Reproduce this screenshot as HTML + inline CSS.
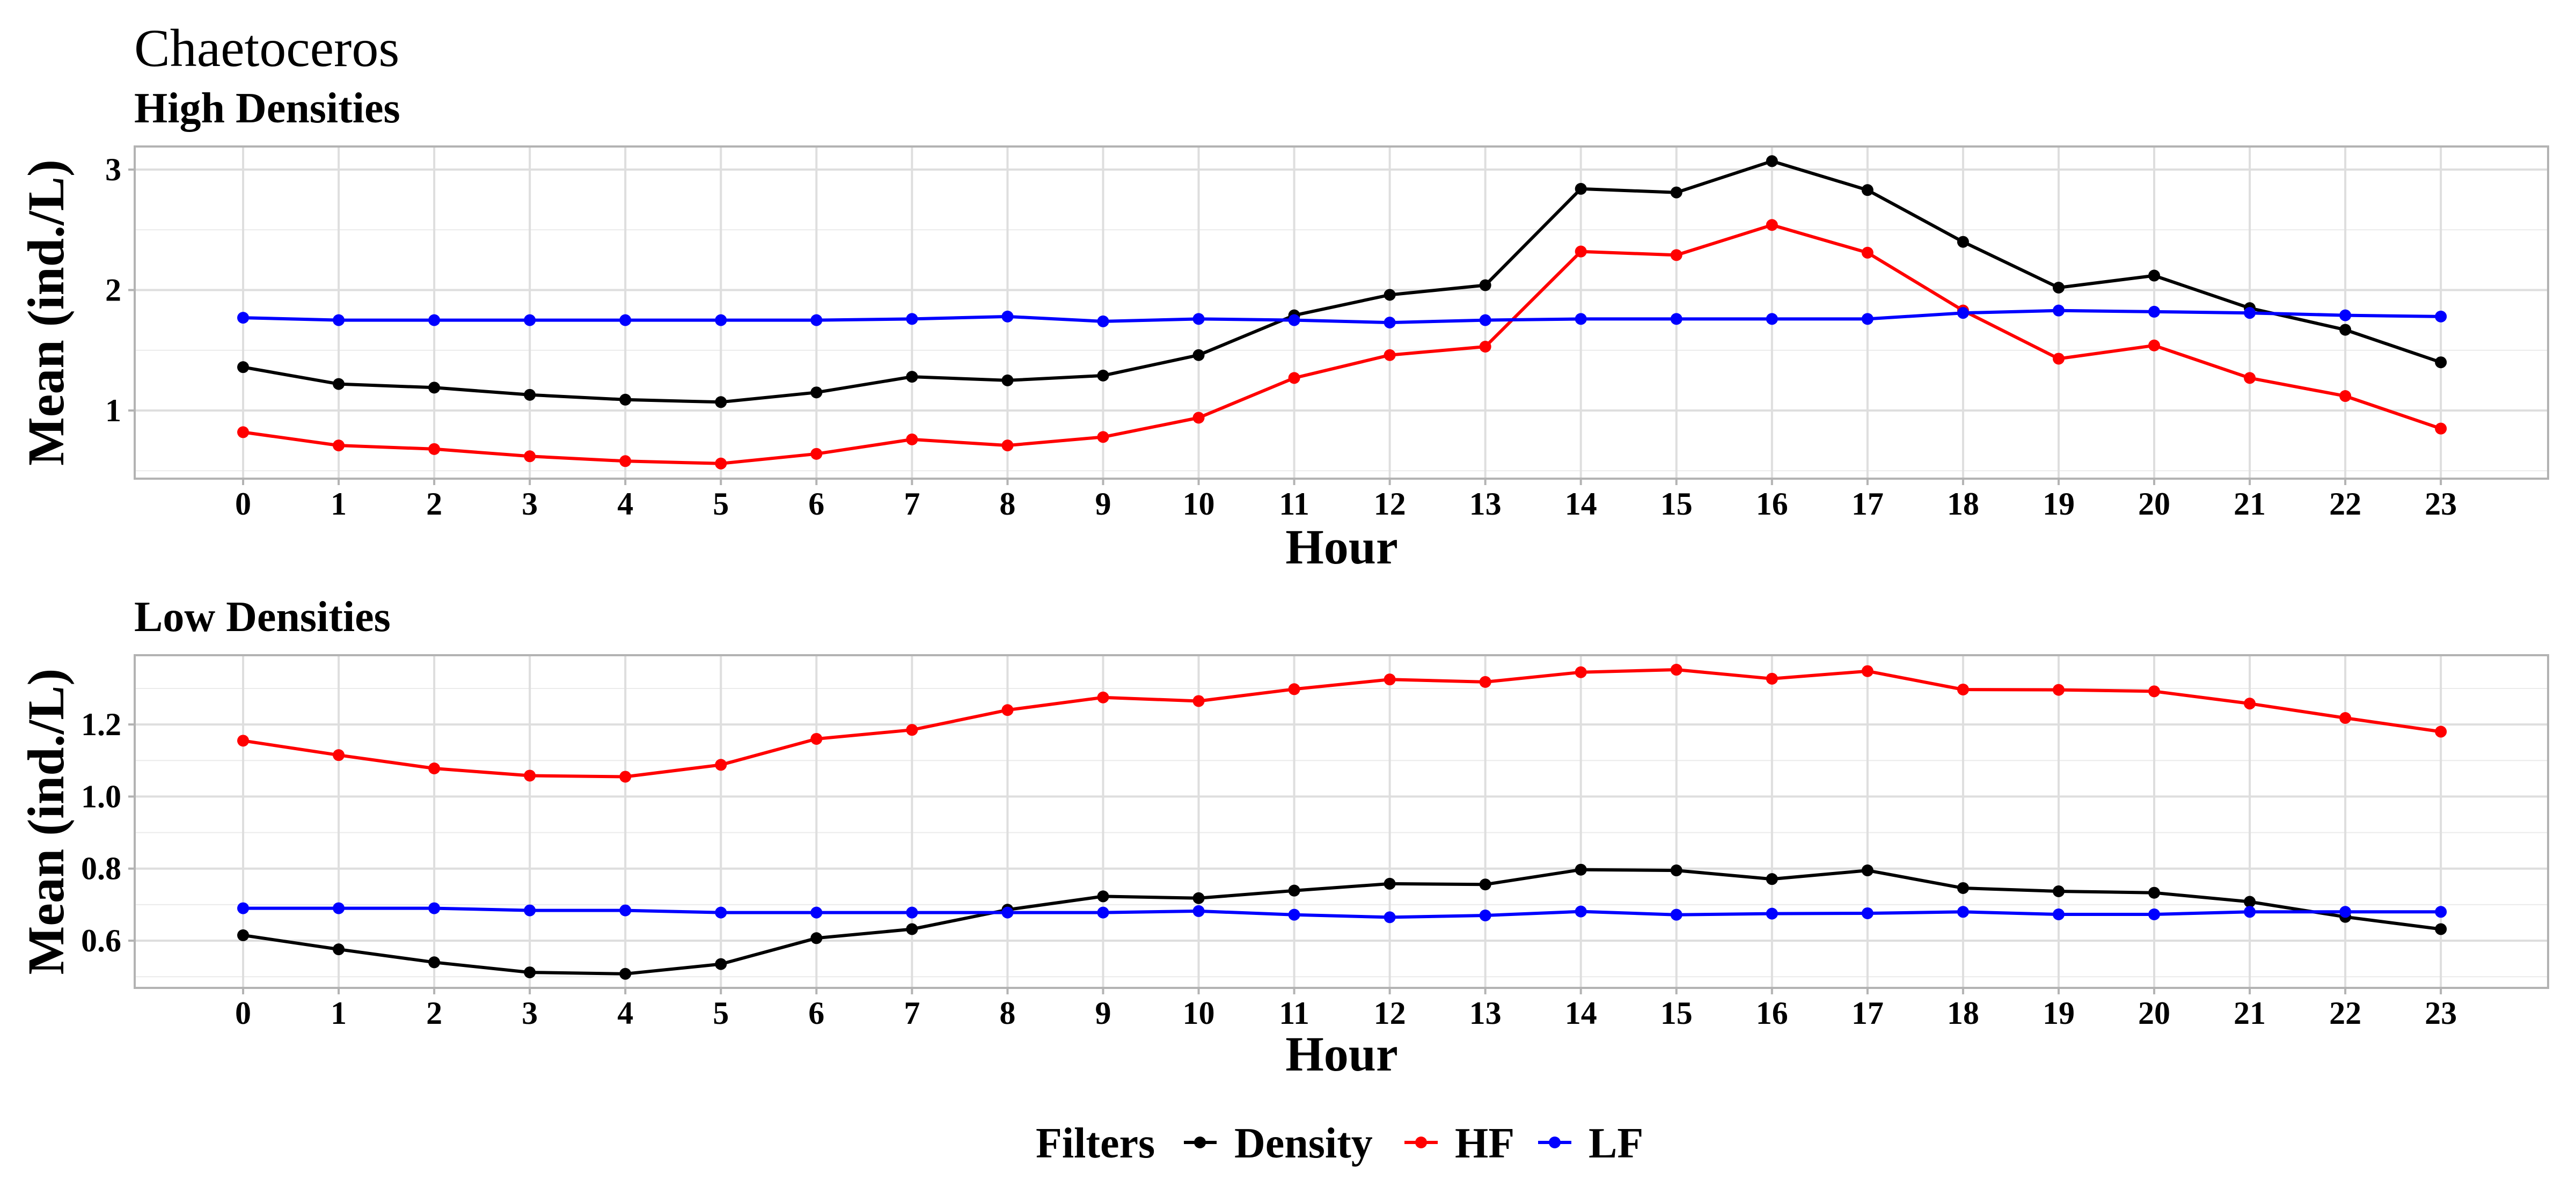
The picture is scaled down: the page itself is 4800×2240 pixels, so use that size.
<!DOCTYPE html>
<html><head><meta charset="utf-8"><style>
html,body{margin:0;padding:0;background:#fff}
svg{display:block}
text{font-family:"Liberation Serif",serif}
</style></head><body>
<svg id="chart" width="4800" height="2240" viewBox="0 0 4800 2240" xmlns="http://www.w3.org/2000/svg">
<text x="250" y="123" font-size="100">Chaetoceros</text>
<text x="250" y="228" font-size="80" font-weight="bold">High Densities</text>
<text x="250" y="1176" font-size="80" font-weight="bold">Low Densities</text>
<g id="p1"></g>
<g id="p2"></g>
<g>
<text x="1930" y="2157" font-size="80" font-weight="bold">Filters</text>
<g><line x1="2206" x2="2267" y1="2129" y2="2129" stroke="#000" stroke-width="6"/><circle cx="2236" cy="2129" r="11" fill="#000"/><text x="2300" y="2157" font-size="80" font-weight="bold">Density</text></g>
<g><line x1="2617" x2="2679" y1="2129" y2="2129" stroke="#f00" stroke-width="6"/><circle cx="2648" cy="2129" r="11" fill="#f00"/><text x="2711" y="2157" font-size="80" font-weight="bold">HF</text></g>
<g><line x1="2866" x2="2928" y1="2129" y2="2129" stroke="#00f" stroke-width="6"/><circle cx="2897" cy="2129" r="11" fill="#00f"/><text x="2960" y="2157" font-size="80" font-weight="bold">LF</text></g>
</g>
</svg>
<script>
const hours = [0,1,2,3,4,5,6,7,8,9,10,11,12,13,14,15,16,17,18,19,20,21,22,23];
const hdDensity = [1.36,1.22,1.19,1.13,1.09,1.07,1.15,1.28,1.25,1.29,1.46,1.79,1.96,2.04,2.84,2.81,3.07,2.83,2.40,2.02,2.12,1.85,1.67,1.40];
const hdHF = [0.82,0.71,0.68,0.62,0.58,0.56,0.64,0.76,0.71,0.78,0.94,1.27,1.46,1.53,2.32,2.29,2.54,2.31,1.83,1.43,1.54,1.27,1.12,0.85];
const hdLF = [1.77,1.75,1.75,1.75,1.75,1.75,1.75,1.76,1.78,1.74,1.76,1.75,1.73,1.75,1.76,1.76,1.76,1.76,1.81,1.83,1.82,1.81,1.79,1.78];
const ldDensity = [0.615,0.576,0.54,0.512,0.508,0.535,0.607,0.632,0.686,0.723,0.718,0.739,0.758,0.756,0.797,0.795,0.771,0.795,0.746,0.737,0.733,0.708,0.666,0.632];
const ldHF = [1.155,1.115,1.078,1.058,1.055,1.088,1.16,1.185,1.24,1.275,1.265,1.298,1.325,1.318,1.345,1.352,1.327,1.348,1.297,1.296,1.292,1.258,1.218,1.18];
const ldLF = [0.69,0.69,0.69,0.684,0.684,0.678,0.678,0.678,0.678,0.678,0.682,0.672,0.665,0.67,0.681,0.672,0.675,0.676,0.68,0.673,0.673,0.68,0.68,0.68];
const hdTicks = [1,2,3];
const hdTickLabels = ["1","2","3"];
const ldTicks = [0.6,0.8,1.0,1.2];
const ldTickLabels = ["0.6","0.8","1.0","1.2"];

const NS = "http://www.w3.org/2000/svg";
function mk(parent, tag, attrs){const e=document.createElementNS(NS,tag);for(const k in attrs)e.setAttribute(k,attrs[k]);parent.appendChild(e);return e;}

function panel(g, cfg){
  const L=251,R=4748,T=cfg.top,B=cfg.bottom;
  const xs=h=>453+h*178.05;
  const ys=v=>cfg.y0px-(v-cfg.y0)*cfg.ppu;
  const bg=mk(g,'rect',{x:L,y:T,width:R-L,height:B-T,fill:'#fff'});
  
  
  for(let i=0;i<cfg.ticks.length+1;i++){
    const v=cfg.ticks[0]+(i-0.5)*cfg.step;
    const y=ys(v);
    if(y>T&&y<B){const l=mk(g,'line',{x1:L,x2:R,y1:y,y2:y,stroke:'#ebebeb','stroke-width':2});
      
      }
  }
  cfg.ticks.forEach((v,i)=>{
    const y=ys(v);
    const l=mk(g,'line',{x1:L,x2:R,y1:y,y2:y,stroke:'#dedede','stroke-width':4});
    
    
    mk(g,'line',{x1:L-12,x2:L,y1:y,y2:y,stroke:'#b3b3b3','stroke-width':4});
    const t=mk(g,'text',{x:L-25,y:y+20,'font-size':60,'font-weight':'bold','text-anchor':'end'});
    t.textContent=cfg.labels[i];
    
    
  });
  hours.forEach(h=>{
    const x=xs(h);
    const l=mk(g,'line',{x1:x,x2:x,y1:T,y2:B,stroke:'#dedede','stroke-width':4});
    
    
    mk(g,'line',{x1:x,x2:x,y1:B,y2:B+12,stroke:'#b3b3b3','stroke-width':4});
    const t=mk(g,'text',{x:x,y:B+67,'font-size':60,'font-weight':'bold','text-anchor':'middle'});
    t.textContent=String(h);
    
    
  });
  const br=mk(g,'rect',{x:L,y:T,width:R-L,height:B-T,fill:'none',stroke:'#b3b3b3','stroke-width':4});
  
  
  cfg.series.forEach(s=>{
    const pts=s.vals.map((v,i)=>xs(hours[i]).toFixed(1)+','+ys(v).toFixed(1)).join(' ');
    const pl=mk(g,'polyline',{points:pts,fill:'none',stroke:s.color,'stroke-width':6,'stroke-linejoin':'round'});
    
    
    s.vals.forEach((v,i)=>{
      const c=mk(g,'circle',{cx:xs(hours[i]),cy:ys(v),r:11,fill:s.color});
      
      
    });
  });
  const xt=mk(g,'text',{x:2500,y:cfg.hourY,'font-size':92,'font-weight':'bold','text-anchor':'middle'});
  xt.textContent='Hour';
  
  
  const cy=(T+B)/2;
  const yt=mk(g,'text',{x:0,y:0,'font-size':96,'font-weight':'bold','text-anchor':'middle',transform:`translate(118,${cy}) rotate(-90)`});
  yt.textContent='Mean (ind./L)';
  
  
}
panel(document.getElementById('p1'),{top:273,bottom:892,y0:1,y0px:765,ppu:224.5,step:1,ticks:hdTicks,labels:hdTickLabels,hourY:1050,
  series:[{name:'density',color:'#000',vals:hdDensity},{name:'hf',color:'#f00',vals:hdHF},{name:'lf',color:'#00f',vals:hdLF}]});
panel(document.getElementById('p2'),{top:1221,bottom:1841,y0:0.6,y0px:1753,ppu:671.5,step:0.2,ticks:ldTicks,labels:ldTickLabels,hourY:1995,
  series:[{name:'density',color:'#000',vals:ldDensity},{name:'hf',color:'#f00',vals:ldHF},{name:'lf',color:'#00f',vals:ldLF}]});
</script>
</body></html>
